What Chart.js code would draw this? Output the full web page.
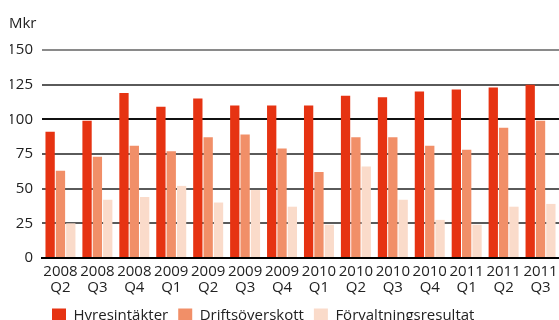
<!DOCTYPE html>
<html>
<head>
<meta charset="utf-8">
<script src="https://cdn.jsdelivr.net/npm/chart.js@4"></script>
<style>
html, body { margin: 0; padding: 0; background: #fff; overflow: hidden; }
#wrap { width: 559px; height: 333px; position: relative; }
</style>
</head>
<body>
<div id="wrap"><canvas id="chart"></canvas></div>
<script>
// Data (Mkr)
const quarters = [
    ['2008', 'Q2'], ['2008', 'Q3'], ['2008', 'Q4'],
    ['2009', 'Q1'], ['2009', 'Q2'], ['2009', 'Q3'], ['2009', 'Q4'],
    ['2010', 'Q1'], ['2010', 'Q2'], ['2010', 'Q3'], ['2010', 'Q4'],
    ['2011', 'Q1'], ['2011', 'Q2'], ['2011', 'Q3']
];
const hyresintakter = [91, 99, 119, 109, 115, 110, 110, 110, 117, 116, 120, 121.5, 123, 125];
const driftsoverskott = [63, 73, 81, 77, 87, 89, 79, 62, 87, 87, 81, 78, 94, 99];
const forvaltningsresultat = [25, 42, 44, 52, 40, 49, 37, 24, 66, 42, 27.5, 24, 37, 39];
const yTicks = [0, 25, 50, 75, 100, 125, 150];
const unitLabel = 'Mkr';

const fontFamily = '"Open Sans", "Noto Sans", sans-serif';

// draws the unit text above the y axis
const unitPlugin = {
    id: 'unitLabel',
    afterDraw(chart) {
        const ctx = chart.ctx;
        ctx.save();
        ctx.font = '15px ' + fontFamily;
        ctx.fillStyle = '#222';
        ctx.textBaseline = 'middle';
        ctx.textAlign = 'left';
        ctx.fillText(unitLabel, 9, 24);
        ctx.restore();
    }
};

new Chart(document.getElementById('chart'), {
    type: 'bar',
    data: {
        labels: quarters,
        datasets: [{
            label: 'Hyresintäkter',
            data: hyresintakter,
            backgroundColor: '#E63312'
        }, {
            label: 'Driftsöverskott',
            data: driftsoverskott,
            backgroundColor: '#F18F68'
        }, {
            label: 'Förvaltningsresultat',
            data: forvaltningsresultat,
            backgroundColor: '#FADBCA'
        }]
    },
    options: {
        responsive: true,
        maintainAspectRatio: false,
        devicePixelRatio: 1,
        animation: false,
        categoryPercentage: 0.84,
        barPercentage: 0.9,
        layout: {
            padding: { left: 10, top: 50, right: 0, bottom: 0 }
        },
        plugins: {
            tooltip: { enabled: false },
            legend: {
                position: 'bottom',
                align: 'start',
                fullSize: false,
                labels: {
                    boxWidth: 14,
                    boxHeight: 14,
                    padding: 10,
                    color: '#222',
                    font: { family: fontFamily, size: 15 }
                }
            }
        },
        scales: {
            x: {
                grid: { display: false },
                border: { display: true, color: '#000', width: 2 },
                ticks: {
                    color: '#222',
                    padding: -2,
                    maxRotation: 0,
                    autoSkip: false,
                    font: { family: fontFamily, size: 15, lineHeight: 1.05 }
                },
                afterFit: (scale) => { scale.height = 40; }
            },
            y: {
                min: 0,
                max: 150,
                afterBuildTicks: (scale) => {
                    scale.ticks = yTicks.map(v => ({ value: v }));
                },
                border: { display: false },
                grid: {
                    drawTicks: false,
                    lineWidth: 2,
                    color: (ctx) => {
                        if (ctx.tick.value === 100 || ctx.tick.value === 0) return '#111';
                        if (ctx.tick.value === 150) return '#8a8a8a';
                        return '#5a5a5a';
                    }
                },
                ticks: {
                    color: '#222',
                    padding: 9,
                    font: { family: fontFamily, size: 15 }
                },
                afterFit: (scale) => { scale.width = 32; }
            }
        }
    },
    plugins: [unitPlugin]
});
</script>
</body>
</html>
